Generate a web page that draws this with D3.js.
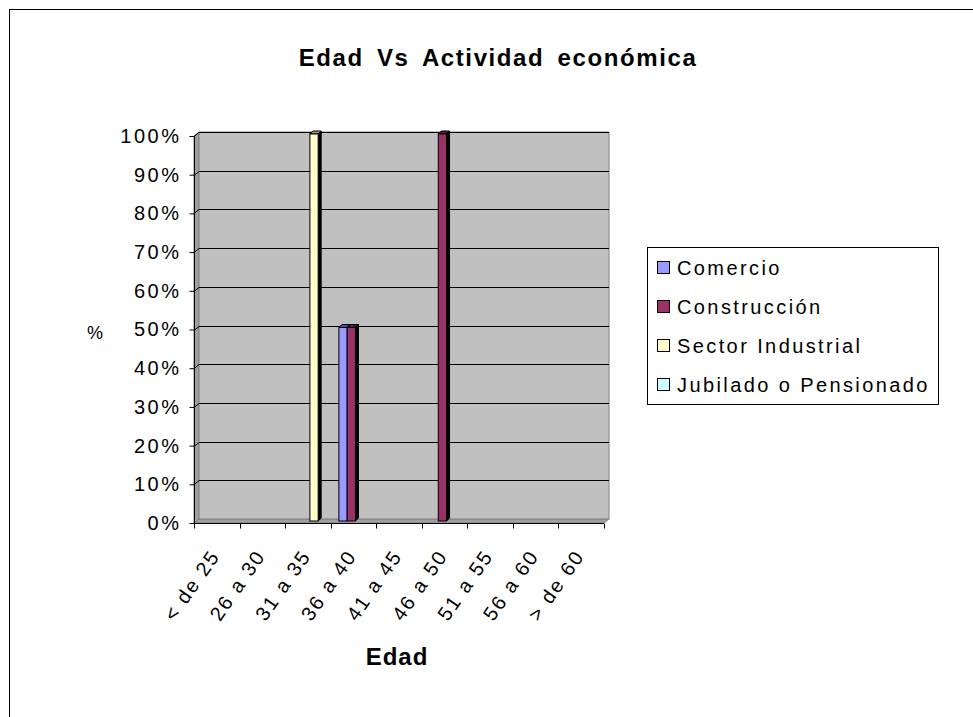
<!DOCTYPE html>
<html>
<head>
<meta charset="utf-8">
<script src="https://cdn.jsdelivr.net/npm/d3@7"></script>
<style>
  html, body { margin: 0; padding: 0; background: #fff; }
  svg { display: block; font-family: "Liberation Sans", Arial, sans-serif; }
</style>
</head>
<body>
<svg id="chart" width="973" height="717"></svg>
<script>
// ---- DATA ----
const categories = ["< de 25", "26 a 30", "31 a 35", "36 a 40", "41 a 45", "46 a 50", "51 a 55", "56 a 60", "> de 60"];
const seriesNames = ["Comercio", "Construcción", "Sector Industrial", "Jubilado o Pensionado"];
const comercio = [0, 0, 0, 50, 0, 0, 0, 0, 0];
const construccion = [0, 0, 0, 50, 0, 100, 0, 0, 0];
const sectorIndustrial = [0, 0, 100, 0, 0, 0, 0, 0, 0];
const jubilado = [0, 0, 0, 0, 0, 0, 0, 0, 0];
const yTicks = [0, 10, 20, 30, 40, 50, 60, 70, 80, 90, 100];
const seriesColors = ["#9999FF", "#993366", "#FFFFCC", "#CCFFFF"];
const seriesTops = ["#4C4C99", "#4C1933", "#99997A", "#7A9999"];
const titleText = "Edad Vs Actividad económica";
const xTitle = "Edad";
const yTitle = "%";

const seriesValues = [comercio, construccion, sectorIndustrial, jubilado];

// ---- LAYOUT ----
const svg = d3.select("#chart");
const X0 = 194, X1 = 604, YB = 523, YT = 136;
const DX = 5, DY = -4;       // wall depth offset
const BDX = 2, BDY = -2;     // bar front offset
const BD = 3;                // bar depth

const x = d3.scaleBand().domain(categories).range([X0, X1]);
const y = d3.scaleLinear().domain([0, 100]).range([YB, YT]);
const inner = d3.scaleBand().domain(seriesNames).range([0, x.bandwidth()]).paddingOuter(0.75);

// chart border (extends beyond view)
svg.append("rect").attr("x", 9.5).attr("y", 9.5).attr("width", 1200).attr("height", 1200)
  .attr("fill", "none").attr("stroke", "#000");

// Title
svg.append("text").attr("x", 498).attr("y", 66).attr("text-anchor", "middle")
  .style("font-weight", "bold").style("font-size", "24px")
  .style("letter-spacing", "1.6px").style("word-spacing", "5px")
  .text(titleText);

// ---- 3D walls ----
svg.append("polygon")
  .attr("points", [[X0, YB], [X0, YT], [X0 + DX, YT + DY], [X0 + DX, YB + DY]].map(p => p.join(",")).join(" "))
  .attr("fill", "#A0A0A0").attr("stroke", "#808080");
svg.append("polygon")
  .attr("points", [[X0, YB], [X0 + DX, YB + DY], [X1 + DX, YB + DY], [X1, YB]].map(p => p.join(",")).join(" "))
  .attr("fill", "#A0A0A0").attr("stroke", "#808080");
svg.append("rect").attr("x", X0 + DX).attr("y", YT + DY)
  .attr("width", X1 - X0).attr("height", YB - YT)
  .attr("fill", "#C0C0C0").attr("stroke", "#808080");

// gridlines
const grid = svg.append("g");
yTicks.filter(t => t > 0).forEach(t => {
  const yy = Math.round(y(t)) + 0.5;
  grid.append("polyline")
    .attr("points", `${X0},${yy} ${X0 + DX},${yy + DY} ${X1 + DX},${yy + DY}`)
    .attr("fill", "none").attr("stroke", "#000").attr("stroke-width", 1);
});

// ---- Bars ----
const bars = svg.append("g");
seriesNames.forEach((s, si) => {
  seriesValues[si].forEach((v, ci) => {
    if (v <= 0) return;
    const bx = x(categories[ci]) + inner(s) + BDX;
    const bw = inner.bandwidth();
    const top = y(v) + BDY;
    const bot = y(0) + BDY;
    bars.append("polygon")
      .attr("points", [[bx, top], [bx + BD, top - BD], [bx + bw + BD, top - BD], [bx + bw, top]].map(p => p.join(",")).join(" "))
      .attr("fill", seriesTops[si]).attr("stroke", "#000").attr("stroke-width", 1);
    bars.append("polygon")
      .attr("points", [[bx + bw, top], [bx + bw + BD, top - BD], [bx + bw + BD, bot - BD], [bx + bw, bot]].map(p => p.join(",")).join(" "))
      .attr("fill", "#000").attr("stroke", "#000").attr("stroke-width", 1);
    bars.append("rect").attr("x", bx).attr("y", top).attr("width", bw).attr("height", bot - top)
      .attr("fill", seriesColors[si]).attr("stroke", "#000").attr("stroke-width", 1);
  });
});

// ---- Axes ----
const yAxis = svg.append("g").attr("transform", `translate(${X0 + 0.5},0)`)
  .call(d3.axisLeft(y).tickValues(yTicks).tickFormat(d => d + "%").tickSize(5).tickPadding(8));
yAxis.select(".domain").attr("stroke", "#000").attr("d", `M0,${YT}V${YB}`);
yAxis.selectAll(".tick line").attr("stroke", "#000");
yAxis.selectAll(".tick text").style("font-size", "20px").style("letter-spacing", "2.5px")
  .attr("fill", "#000").attr("font-family", null);

const xAxis = svg.append("g").attr("transform", `translate(0,${YB + 0.5})`);
xAxis.append("line").attr("x1", X0).attr("x2", X1).attr("stroke", "#000");
const boundaries = categories.map(c => x(c)).concat([x(categories[categories.length - 1]) + x.bandwidth()]);
boundaries.forEach(b => {
  xAxis.append("line").attr("x1", Math.round(b) + 0.5).attr("x2", Math.round(b) + 0.5)
    .attr("y1", 0).attr("y2", 5).attr("stroke", "#000");
});
categories.forEach(c => {
  const cx = x(c) + x.bandwidth() / 2 + 4;
  const cy = YB + 33;
  svg.append("text")
    .attr("transform", `translate(${cx},${cy}) rotate(-55)`)
    .attr("text-anchor", "end")
    .style("font-size", "20px").style("letter-spacing", "2px")
    .text(c);
});

// axis titles
svg.append("text").attr("x", 397).attr("y", 665).attr("text-anchor", "middle")
  .style("font-weight", "bold").style("font-size", "24px").style("letter-spacing", "1px")
  .text(xTitle);
svg.append("text").attr("x", 95).attr("y", 339).attr("text-anchor", "middle")
  .style("font-size", "18px")
  .text(yTitle);

// ---- Legend ----
const lg = svg.append("g");
lg.append("rect").attr("x", 647.5).attr("y", 247.5).attr("width", 291).attr("height", 157)
  .attr("fill", "#fff").attr("stroke", "#000");
seriesNames.forEach((s, i) => {
  const cy = 268 + i * 39;
  lg.append("rect").attr("x", 657.5).attr("y", cy - 6.5).attr("width", 12).attr("height", 12)
    .attr("fill", seriesColors[i]).attr("stroke", "#000");
  lg.append("text").attr("x", 677).attr("y", cy + 7)
    .style("font-size", "20px").style("letter-spacing", "2.4px")
    .text(s);
});
</script>
</body>
</html>
